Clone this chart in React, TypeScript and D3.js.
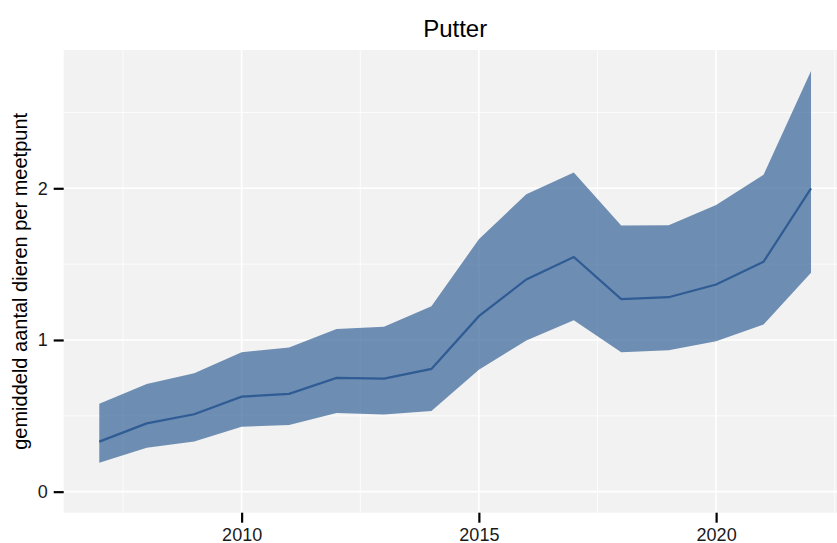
import * as d3 from "d3";
import { useEffect, useRef } from "react";

const years = [2007, 2008, 2009, 2010, 2011, 2012, 2013, 2014, 2015, 2016, 2017, 2018, 2019, 2020, 2021, 2022];
const mean = [0.33, 0.45, 0.51, 0.626, 0.645, 0.75, 0.745, 0.809, 1.157, 1.399, 1.547, 1.27, 1.282, 1.366, 1.516, 1.999];
const lower = [0.19, 0.29, 0.33, 0.428, 0.44, 0.518, 0.509, 0.531, 0.804, 0.996, 1.13, 0.919, 0.932, 0.991, 1.102, 1.443];
const upper = [0.58, 0.71, 0.78, 0.919, 0.95, 1.073, 1.087, 1.223, 1.664, 1.961, 2.104, 1.755, 1.756, 1.89, 2.089, 2.773];

const xTicks = [2010, 2015, 2020];
const xMinor = [2007.5, 2012.5, 2017.5, 2022.5];
const yTicks = [0, 1, 2];
const yMinor = [0.5, 1.5, 2.5];

const title = "Putter";
const yTitle = "gemiddeld aantal dieren per meetpunt";

export default function App() {
  const ref = useRef<SVGSVGElement | null>(null);

  useEffect(() => {
    if (!ref.current) return;
    const svg = d3.select(ref.current);
    svg.selectAll("*").remove();

    const width = 837;
    const height = 543;
    const margin = { top: 50, right: -9.6, bottom: 30.3, left: 63.7 };
    const font = "'Liberation Sans', Arial, sans-serif";

    const data = years.map((y, i) => ({ year: y, mean: mean[i], lo: lower[i], hi: upper[i] }));

    const xPad = (d3.max(years)! - d3.min(years)!) * 0.05;
    const x = d3
      .scaleLinear()
      .domain([d3.min(years)! - xPad, d3.max(years)! + xPad])
      .range([margin.left, width - margin.right]);

    const yMax = d3.max(upper)!;
    const yPad = yMax * 0.05;
    const y = d3
      .scaleLinear()
      .domain([-yPad, yMax + yPad])
      .range([height - margin.bottom, margin.top]);

    const [x0, x1] = x.range();
    const [y0, y1] = y.range();

    // panel
    svg
      .append("rect")
      .attr("x", x0)
      .attr("y", y1)
      .attr("width", x1 - x0)
      .attr("height", y0 - y1)
      .attr("fill", "#f2f2f2");

    const grid = svg.append("g").attr("stroke", "#ffffff");
    grid
      .selectAll("line.ymin")
      .data(yMinor)
      .join("line")
      .attr("x1", x0)
      .attr("x2", x1)
      .attr("y1", (d) => y(d))
      .attr("y2", (d) => y(d))
      .attr("stroke-width", 0.8);
    grid
      .selectAll("line.xmin")
      .data(xMinor)
      .join("line")
      .attr("y1", y0)
      .attr("y2", y1)
      .attr("x1", (d) => x(d))
      .attr("x2", (d) => x(d))
      .attr("stroke-width", 0.8);
    grid
      .selectAll("line.ymaj")
      .data(yTicks)
      .join("line")
      .attr("x1", x0)
      .attr("x2", x1)
      .attr("y1", (d) => y(d))
      .attr("y2", (d) => y(d))
      .attr("stroke-width", 1.6);
    grid
      .selectAll("line.xmaj")
      .data(xTicks)
      .join("line")
      .attr("y1", y0)
      .attr("y2", y1)
      .attr("x1", (d) => x(d))
      .attr("x2", (d) => x(d))
      .attr("stroke-width", 1.6);

    const area = d3
      .area<(typeof data)[number]>()
      .x((d) => x(d.year))
      .y0((d) => y(d.lo))
      .y1((d) => y(d.hi));

    svg
      .append("path")
      .datum(data)
      .attr("d", area)
      .attr("fill", "rgb(52,98,151)")
      .attr("fill-opacity", 0.7);

    const line = d3
      .line<(typeof data)[number]>()
      .x((d) => x(d.year))
      .y((d) => y(d.mean));

    svg
      .append("path")
      .datum(data)
      .attr("d", line)
      .attr("fill", "none")
      .attr("stroke", "rgb(47,92,148)")
      .attr("stroke-width", 2.2);

    // axes
    const xAxis = (g: any) =>
      g
        .attr("transform", `translate(0,${y0})`)
        .call(d3.axisBottom(x).tickValues(xTicks).tickFormat(d3.format("d")).tickSize(10).tickPadding(6))
        .call((g: any) => g.select(".domain").remove());
    const yAxis = (g: any) =>
      g
        .attr("transform", `translate(${x0},0)`)
        .call(d3.axisLeft(y).tickValues(yTicks).tickFormat(d3.format("d")).tickSize(10).tickPadding(6))
        .call((g: any) => g.select(".domain").remove());

    for (const ax of [xAxis, yAxis]) {
      const g = svg.append("g").call(ax);
      g.selectAll("line").attr("stroke", "#000").attr("stroke-width", 2.2);
      g.selectAll("text")
        .attr("fill", "#1a1a1a")
        .style("font-family", font)
        .style("font-size", "18px");
    }

    svg
      .append("text")
      .attr("x", (x0 + x1) / 2)
      .attr("y", 36.5)
      .attr("text-anchor", "middle")
      .style("font-family", font)
      .style("font-size", "24px")
      .attr("fill", "#000")
      .text(title);

    svg
      .append("text")
      .attr("transform", `translate(27,${(y0 + y1) / 2}) rotate(-90)`)
      .attr("text-anchor", "middle")
      .style("font-family", font)
      .style("font-size", "20px")
      .attr("fill", "#000")
      .text(yTitle);
  }, []);

  return (
    <svg
      ref={ref}
      width={837}
      height={543}
      style={{ position: "absolute", left: 0, top: 0, background: "#fff" }}
    />
  );
}
